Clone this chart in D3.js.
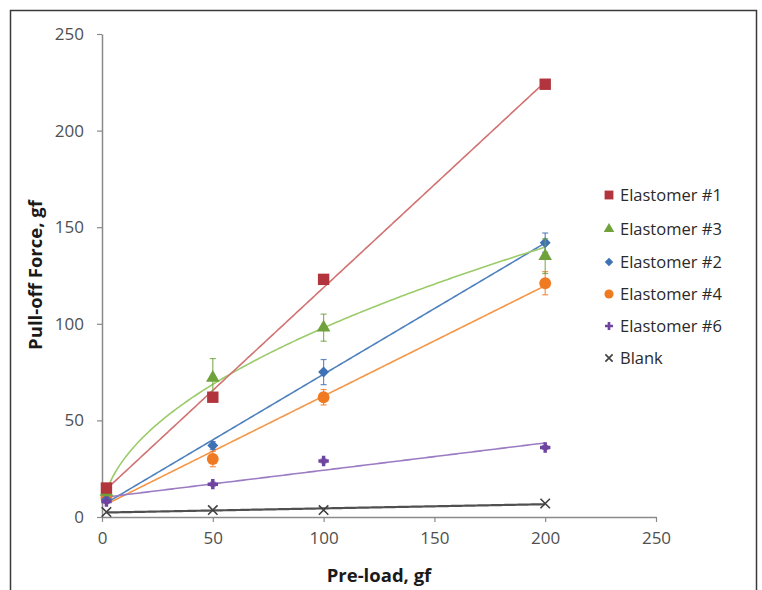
<!DOCTYPE html>
<html><head><meta charset="utf-8">
<script src="https://cdn.jsdelivr.net/npm/d3@7"></script>
<style>body{margin:0;background:#fff}svg{display:block}</style>
</head><body>
<svg id="c" width="762" height="590"></svg>
<script>
const preload = [2, 50, 100, 200];
const xTicks = [0, 50, 100, 150, 200, 250];
const yTicks = [0, 50, 100, 150, 200, 250];
const e1 = [15, 62, 123, 224];
const e1err = [1, 1, 2, 2];
const e3 = [13, 72, 98, 135];
const e3err = [2, 10, 7, 9];
const e2 = [9, 37, 75, 142];
const e2err = [1, 2, 6.5, 5];
const e4 = [10, 30, 62, 121];
const e4err = [1, 4, 4, 6];
const e6 = [8, 17, 29, 36];
const e6err = [1, 1, 1, 1];
const blank = [2.6, 3.6, 3.6, 7];
const blankErr = [0, 0, 0, 0];
const legendOrder = ["Elastomer #1", "Elastomer #3", "Elastomer #2", "Elastomer #4", "Elastomer #6", "Blank"];

const series = [
  {name:"Elastomer #4", y:e4, err:e4err, color:"#F07A22", line:"#F79646", sym:"circle", fit:"linear"},
  {name:"Elastomer #2", y:e2, err:e2err, color:"#3F72B5", line:"#4F81BD", sym:"diamond", fit:"linear"},
  {name:"Elastomer #6", y:e6, err:e6err, color:"#6E44A0", line:"#9B7BC4", sym:"cross", fit:"linear"},
  {name:"Blank", y:blank, err:blankErr, color:"#404040", line:"#505050", sym:"x", fit:"linear"},
  {name:"Elastomer #3", y:e3, err:e3err, color:"#6FA23A", line:"#9BCB6A", sym:"triangle", fit:"power"},
  {name:"Elastomer #1", y:e1, err:e1err, color:"#B2353D", line:"#D27272", sym:"square", fit:"linear"}
];

const svg = d3.select("#c");
svg.append("rect").attr("x",10.5).attr("y",10.5).attr("width",746).attr("height",600)
  .attr("fill","#fff").attr("stroke","#3a3a3a").attr("stroke-width",1.5);

const x = d3.scaleLinear().domain([0,250]).range([102,656]);
const y = d3.scaleLinear().domain([0,250]).range([517,34]);

const xAxis = svg.append("g").attr("transform","translate(0,517)")
  .call(d3.axisBottom(x).tickValues(xTicks).tickSize(5).tickSizeOuter(0).tickPadding(10));
const yAxis = svg.append("g").attr("transform","translate(102,0)")
  .call(d3.axisLeft(y).tickValues(yTicks).tickSize(5).tickSizeOuter(0).tickPadding(13));
[xAxis,yAxis].forEach(a=>{
  a.select(".domain").attr("stroke","#8a8a8a").attr("stroke-width",1.5);
  a.selectAll(".tick line").attr("stroke","#8a8a8a").attr("stroke-width",1.2);
  a.selectAll("text").attr("fill","#505050").attr("font-family","Open Sans, sans-serif").attr("font-size",17);
});
xAxis.selectAll("text").attr("dy","0.7em");

svg.append("text").attr("x",379).attr("y",582).attr("text-anchor","middle")
  .attr("font-family","Open Sans, sans-serif").attr("font-weight","bold").attr("font-size",18.5)
  .attr("fill","#1a1a1a").text("Pre-load, gf");
svg.append("text").attr("transform","translate(42,275) rotate(-90)").attr("text-anchor","middle")
  .attr("font-family","Open Sans, sans-serif").attr("font-weight","bold").attr("font-size",18.5)
  .attr("fill","#1a1a1a").text("Pull-off Force, gf");

function fitLinear(xs, ys){
  const mx=d3.mean(xs), my=d3.mean(ys);
  let sxy=0,sxx=0; xs.forEach((v,i)=>{sxy+=(v-mx)*(ys[i]-my); sxx+=(v-mx)*(v-mx);});
  const b=sxy/sxx, a=my-b*mx; return t=>a+b*t;
}
function fitPower(xs, ys){
  const lx=xs.map(Math.log), ly=ys.map(Math.log);
  const f=fitLinear(lx,ly); return t=>Math.exp(f(Math.log(t)));
}

const symMap = {circle:d3.symbolCircle, diamond:d3.symbolSquare, cross:d3.symbolCross,
  x:d3.symbolTimes, triangle:d3.symbolTriangle, square:d3.symbolSquare};
const sizeMap = {circle:110, diamond:60, cross:60, x:60, triangle:80, square:130};

function drawMarker(g, s, cx, cy, scale){
  const sz = sizeMap[s.sym]*scale;
  const rot = s.sym==="diamond" ? " rotate(45)" : "";
  const p = g.append("path").attr("d", d3.symbol().type(symMap[s.sym]).size(sz)())
    .attr("transform",`translate(${cx},${cy})${rot}`);
  if(s.sym==="x") p.attr("fill","none").attr("stroke",s.color).attr("stroke-width",1.6);
  else p.attr("fill",s.color);
}

const plot = svg.append("g");
series.forEach(s=>{
  const f = s.fit==="power" ? fitPower(preload,s.y) : fitLinear(preload,s.y);
  const xs = d3.range(preload[0], preload[preload.length-1]+0.01, 1);
  plot.append("path").datum(xs)
    .attr("d", d3.line().x(t=>x(t)).y(t=>y(f(t))))
    .attr("fill","none").attr("stroke",s.line).attr("stroke-width", s.sym==="x"?2.2:1.6);
});
series.forEach(s=>{
  const g = plot.append("g");
  preload.forEach((px,i)=>{
    const e = s.err[i];
    if(e>0){
      g.append("line").attr("x1",x(px)).attr("x2",x(px)).attr("y1",y(s.y[i]-e)).attr("y2",y(s.y[i]+e))
        .attr("stroke",s.color).attr("stroke-width",1.2).attr("opacity",0.8);
      [s.y[i]-e, s.y[i]+e].forEach(v=>g.append("line").attr("x1",x(px)-3).attr("x2",x(px)+3)
        .attr("y1",y(v)).attr("y2",y(v)).attr("stroke",s.color).attr("stroke-width",1.2).attr("opacity",0.8));
    }
    drawMarker(g, s, x(px), y(s.y[i]), 1);
  });
});

const lg = svg.append("g");
const ly = [195, 229, 262, 294, 326, 358];
legendOrder.forEach((name,i)=>{
  const s = series.find(d=>d.name===name);
  drawMarker(lg, s, 609, ly[i], 0.6);
  lg.append("text").attr("x",620).attr("y",ly[i]).attr("dy","0.35em")
    .attr("font-family","Open Sans, sans-serif").attr("font-size",16.5).attr("fill","#2a2a2a").text(name);
});
</script>
</body></html>
